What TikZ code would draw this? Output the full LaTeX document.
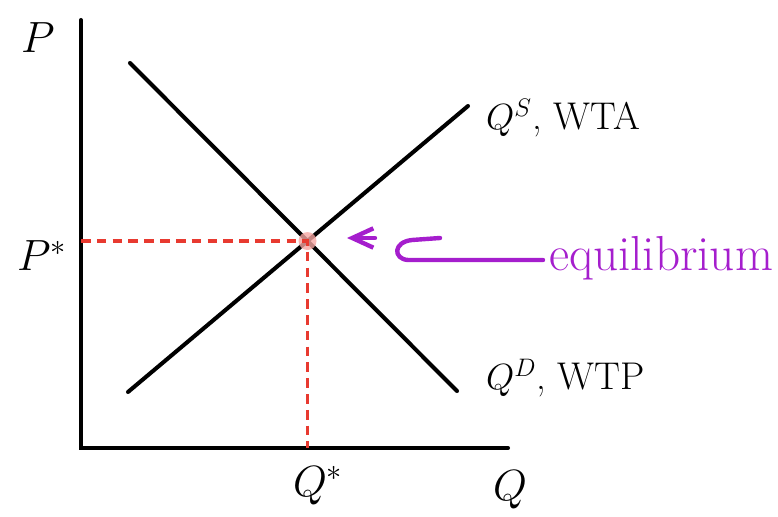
\documentclass[tikz,border=0pt]{standalone}
\usepackage{tikz}
\usetikzlibrary{arrows.meta}
\definecolor{eqred}{RGB}{232,58,48}
\definecolor{eqpurple}{RGB}{165,30,205}

\begin{document}
\begin{tikzpicture}[x=0.02cm, y=-0.02cm,
    axis/.style={line width=2.3pt, line cap=round},
    curve/.style={line width=2.3pt, line cap=round},
    guide/.style={eqred, line width=1.8pt, dash pattern=on 5.5pt off 3.5pt},
    lbl/.style={font=\fontsize{26}{30}\selectfont},
    clbl/.style={font=\fontsize{22}{26}\selectfont, anchor=west},
    pen/.style={eqpurple, line width=2.5pt, line cap=round, line join=round}
  ]
  \useasboundingbox (0,0) rectangle (778,517);
  % axes
  \coordinate (O)    at (81,448);
  \coordinate (ytop) at (81,20);
  \coordinate (xend) at (508,448);
  \draw[axis] (ytop) -- (O) -- (xend);
  % supply and demand
  \coordinate (s1) at (128,392);
  \coordinate (s2) at (468,106);
  \coordinate (d1) at (130,63);
  \coordinate (d2) at (457,391);
  \draw[curve] (s1) -- (s2);
  \draw[curve] (d1) -- (d2);
  \coordinate (E) at (intersection of s1--s2 and d1--d2);
  \fill[eqred!45, opacity=0.8] (E) circle (9);
  \draw[guide] (E -| O) -- (E) -- (E |- O);
  % labels
  \node[lbl] (P)     at (38,38)  {$P$};
  \node[lbl] (Pstar) at (42,256) {$P^{*}$};
  \node[lbl] (Qstar) at (318,486) {$Q^{*}$};
  \node[lbl] (Q)     at (510,490) {$Q$};
  \node[clbl] (qs) at (480,118) {$Q^{S}$, WTA};
  \node[clbl] (qd) at (480,378) {$Q^{D}$, WTP};
  \node[font=\fontsize{28}{32}\selectfont, text=eqpurple, anchor=base west]
    (eq) at (543,270) {equilibrium};
  % arrow to equilibrium
  \coordinate (hook) at (440,238);
  \coordinate (tip)  at (347,238);
  \draw[pen] (eq.west |- 0,260) -- (408,260)
    .. controls (393,259) and (393,242) .. (412,240) -- (hook);
  \draw[pen, -{Straight Barb[length=12pt, width=11pt]}] (375,238) -- (tip);
\end{tikzpicture}
\end{document}
